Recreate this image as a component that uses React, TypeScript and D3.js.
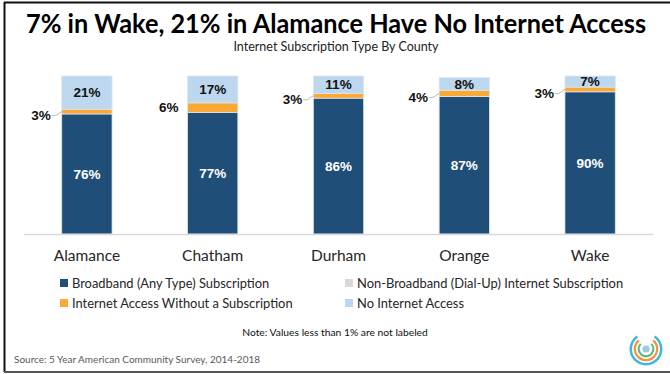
import React from "react";
import * as d3 from "d3";

const counties = ["Alamance", "Chatham", "Durham", "Orange", "Wake"];
const broadband = [76, 77, 86, 87, 90];
const dialUp = [0, 0, 0, 0, 0];
const noSubscription = [3, 6, 3, 4, 3];
const noInternet = [21, 17, 11, 8, 7];
const seriesNames = [
  "Broadband (Any Type) Subscription",
  "Non-Broadband (Dial-Up) Internet Subscription",
  "Internet Access Without a Subscription",
  "No Internet Access",
];
const yTicks = [0, 100];

const W = 670;
const H = 374;
const colors = ["#1F4E79", "#D9D9D9", "#FBA834", "#BDD7EE"];
const keys = ["broadband", "dialUp", "noSub", "noInt"];

export default function App() {
  const rows = counties.map((c, i) => ({
    county: c,
    broadband: broadband[i],
    dialUp: dialUp[i],
    noSub: noSubscription[i],
    noInt: noInternet[i],
  }));
  const stack = d3.stack<any>().keys(keys)(rows);
  const x = d3.scaleBand().domain(counties).range([24, 653]).paddingInner(0.6).paddingOuter(0.3);
  const y = d3.scaleLinear().domain([yTicks[0], yTicks[1]]).range([234, 76]);
  const bw = x.bandwidth();
  const catFont = "Lato, 'Open Sans', sans-serif";
  const numFont = "'Liberation Sans', Arial, sans-serif";

  const legendPos = [
    [60, 283],
    [345, 283],
    [60, 303],
    [345, 303],
  ];

  return (
    <svg width={W} height={H} style={{ position: "absolute", left: 0, top: 0, background: "#fff" }}>
      <rect x={0} y={0} width={W} height={H} fill="#fff" />
      {/* frame */}
      <line x1={4} x2={W} y1={2.5} y2={2.5} stroke="#111" strokeWidth={2} />
      <line x1={4.5} x2={4.5} y1={2} y2={372} stroke="#111" strokeWidth={2} />
      <line x1={4} x2={W} y1={372} y2={372} stroke="#555" strokeWidth={2} />

      <text x={336} y={33} textAnchor="middle" fontFamily={catFont} fontWeight={700} fontSize={26} fill="#000" textLength={620} lengthAdjust="spacingAndGlyphs">
        7% in Wake, 21% in Alamance Have No Internet Access
      </text>
      <text x={336} y={51} textAnchor="middle" fontFamily={catFont} fontSize={12.5} fill="#222">
        Internet Subscription Type By County
      </text>

      {/* bars */}
      {stack.map((s, si) => (
        <g key={keys[si]} fill={colors[si]}>
          {s.map((d: any, i: number) => {
            const h = y(d[0]) - y(d[1]);
            if (h <= 0) return null;
            return (
              <rect key={i} x={x(counties[i])!} y={y(d[1])} width={bw} height={h} stroke="#DCE6F0" strokeWidth={0.8} />
            );
          })}
        </g>
      ))}

      {/* axis baseline */}
      <line x1={24} x2={653} y1={234.5} y2={234.5} stroke="#D9D9D9" strokeWidth={1.5} />

      {/* labels */}
      {counties.map((c, i) => {
        const x0 = x(c)!;
        const cx = x0 + bw / 2;
        const bb = stack[0][i];
        const ns = stack[2][i];
        const ni = stack[3][i];
        const nsMid = (y(ns[0]) + y(ns[1])) / 2;
        const nsH = y(ns[0]) - y(ns[1]);
        const small = nsH < 8;
        const labY = small ? nsMid + 4 : nsMid;
        return (
          <g key={c}>
            <text x={cx} y={(y(bb[0]) + y(bb[1])) / 2} dy="0.35em" textAnchor="middle" fontFamily={numFont} fontWeight={700} fontSize={13.5} fill="#fff">
              {broadband[i]}%
            </text>
            <text x={cx} y={(y(ni[0]) + y(ni[1])) / 2} dy="0.35em" textAnchor="middle" fontFamily={numFont} fontWeight={700} fontSize={13.5} fill="#111">
              {noInternet[i]}%
            </text>
            <text x={x0 - (small ? 11 : 9)} y={labY} dy="0.35em" textAnchor="end" fontFamily={numFont} fontWeight={700} fontSize={13.5} fill="#111">
              {noSubscription[i]}%
            </text>
            {small && (
              <polyline points={`${x0 - 10},${labY} ${x0 - 6},${labY} ${x0},${nsMid}`} fill="none" stroke="#A6A6A6" strokeWidth={0.8} />
            )}
            <text x={cx} y={261} textAnchor="middle" fontFamily={catFont} fontSize={15.5} fill="#262626">
              {c}
            </text>
          </g>
        );
      })}

      {/* legend */}
      {seriesNames.map((n, i) => (
        <g key={n}>
          <rect x={legendPos[i][0]} y={legendPos[i][1] - 4} width={8} height={8} fill={colors[i]} />
          <text x={legendPos[i][0] + 12} y={legendPos[i][1]} dy="0.35em" fontFamily={catFont} fontSize={12.9} fill="#262626">
            {n}
          </text>
        </g>
      ))}

      <text x={335} y={332} dy="0.35em" textAnchor="middle" fontFamily={catFont} fontSize={10.3} fill="#111">
        Note: Values less than 1% are not labeled
      </text>
      <text x={14} y={359} dy="0.35em" fontFamily={catFont} fontSize={10} fill="#595959">
        Source: 5 Year American Community Survey, 2014-2018
      </text>

      {/* logo */}
      <g transform="translate(646,349)" fill="none" strokeLinecap="round">
        <path d={d3.arc()({ innerRadius: 14, outerRadius: 16.5, startAngle: 0.6, endAngle: 2 * Math.PI - 0.6 } as any) || ""} fill="#3FB8D6" />
        <path d={d3.arc()({ innerRadius: 10, outerRadius: 12.3, startAngle: 0.7, endAngle: 2 * Math.PI - 0.7 } as any) || ""} fill="#F29245" />
        <path d={d3.arc()({ innerRadius: 6.3, outerRadius: 8.4, startAngle: 0.8, endAngle: 2 * Math.PI - 0.8 } as any) || ""} fill="#5DB87A" />
        <circle r={3.6} fill="#9CC8EC" />
      </g>
    </svg>
  );
}
